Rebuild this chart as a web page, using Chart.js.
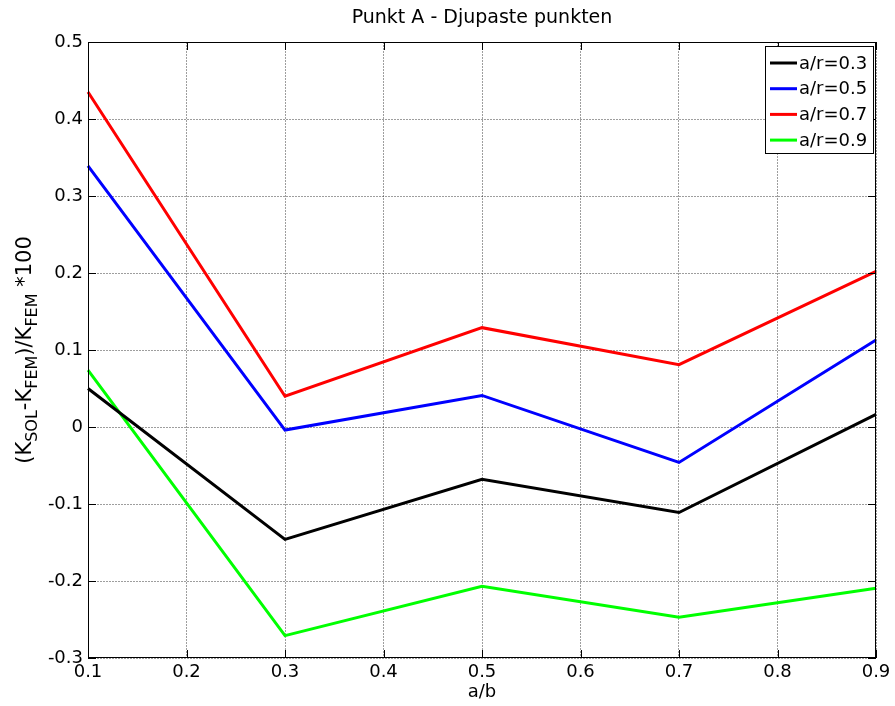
<!DOCTYPE html>
<html>
<head>
<meta charset="utf-8">
<script src="https://cdn.jsdelivr.net/npm/chart.js@4"></script>
<style>
  html, body { margin: 0; padding: 0; background: #fff; }
  canvas { display: block; }
</style>
</head>
<body>
<canvas id="grafico" width="895" height="706"></canvas>
<script>
const xValues = [0.1, 0.3, 0.5, 0.7, 0.9]
const seriesLabels = ['a/r=0.3', 'a/r=0.5', 'a/r=0.7', 'a/r=0.9']
const seriesColors = ['#000000', '#0000ff', '#ff0000', '#00ff00']
const ar03 = [0.050, -0.146, -0.068, -0.111, 0.0165]
const ar05 = [0.339, -0.004, 0.041, -0.046, 0.113]
const ar07 = [0.435, 0.040, 0.129, 0.081, 0.202]
const ar09 = [0.074, -0.271, -0.207, -0.247, -0.2095]
const xTicks = [0.1, 0.2, 0.3, 0.4, 0.5, 0.6, 0.7, 0.8, 0.9]
const xTickLabels = ['0.1', '0.2', '0.3', '0.4', '0.5', '0.6', '0.7', '0.8', '0.9']
const yTicks = [-0.3, -0.2, -0.1, 0, 0.1, 0.2, 0.3, 0.4, 0.5]
const yTickLabels = ['-0.3', '-0.2', '-0.1', '0', '0.1', '0.2', '0.3', '0.4', '0.5']

const FONT = '"DejaVu Sans", Arial, sans-serif'

// box, inward ticks, title, axis labels, legend (matlab look)
const matlabLook = {
    id: 'matlabLook',
    afterDatasetsDraw(chart) {
        const ctx = chart.ctx
        const a = chart.chartArea
        const xs = chart.scales.x, ys = chart.scales.y
        ctx.save()
        ctx.strokeStyle = '#000'
        ctx.lineWidth = 1
        ctx.strokeRect(a.left + 0.5, a.top + 0.5, a.right - a.left - 1, a.bottom - a.top - 1)
        ctx.beginPath()
        for (const t of xTicks) {
            const px = Math.round(xs.getPixelForValue(t)) + 0.5
            ctx.moveTo(px, a.bottom); ctx.lineTo(px, a.bottom - 8)
            ctx.moveTo(px, a.top); ctx.lineTo(px, a.top + 8)
        }
        for (const t of yTicks) {
            const py = Math.round(ys.getPixelForValue(t)) + 0.5
            ctx.moveTo(a.left, py); ctx.lineTo(a.left + 8, py)
            ctx.moveTo(a.right, py); ctx.lineTo(a.right - 8, py)
        }
        ctx.stroke()

        const cx = (a.left + a.right) / 2
        ctx.fillStyle = '#000'
        ctx.font = '19px ' + FONT
        ctx.textAlign = 'center'
        ctx.textBaseline = 'middle'
        ctx.fillText('Punkt A - Djupaste punkten', cx, 18)
        ctx.font = '18px ' + FONT
        ctx.fillText('a/b', cx, 692)

        // y label with subscripts
        const parts = [['(K', 0], ['SOL', 1], ['-K', 0], ['FEM', 1], [')/K', 0], ['FEM', 1], [' *100', 0]]
        const main = '21px ', small = '16px '
        let total = 0
        for (const [s, sub] of parts) {
            ctx.font = (sub ? small : main) + FONT
            total += ctx.measureText(s).width
        }
        ctx.translate(31, (a.top + a.bottom) / 2)
        ctx.rotate(-Math.PI / 2)
        ctx.textAlign = 'left'
        ctx.textBaseline = 'alphabetic'
        let pos = -total / 2
        for (const [s, sub] of parts) {
            ctx.font = (sub ? small : main) + FONT
            ctx.fillText(s, pos, sub ? 6 : 0)
            pos += ctx.measureText(s).width
        }
        ctx.restore()

        // legend
        ctx.save()
        const lx = 765, ly = 46, lw = 108, lh = 107
        ctx.fillStyle = '#fff'
        ctx.fillRect(lx, ly, lw, lh)
        ctx.strokeStyle = '#000'
        ctx.lineWidth = 1
        ctx.strokeRect(lx + 0.5, ly + 0.5, lw, lh)
        ctx.font = '18px ' + FONT
        ctx.textAlign = 'left'
        ctx.textBaseline = 'middle'
        chart.data.datasets.forEach((ds, i) => {
            const ry = 63 + i * 25.7
            ctx.strokeStyle = ds.borderColor
            ctx.lineWidth = 3
            ctx.beginPath()
            ctx.moveTo(770, ry); ctx.lineTo(797, ry)
            ctx.stroke()
            ctx.fillStyle = '#000'
            ctx.fillText(ds.label, 799, ry + 1)
        })
        ctx.restore()
    }
}

window.onload = () => {
    const grf = document.getElementById('grafico').getContext('2d')
    const series = [ar03, ar05, ar07, ar09]

    const data = {
        datasets: series.map((vals, i) => ({
            label: seriesLabels[i],
            data: vals.map((v, j) => ({ x: xValues[j], y: v })),
            borderColor: seriesColors[i],
            backgroundColor: seriesColors[i],
            borderWidth: 3,
            pointRadius: 0,
            tension: 0,
            clip: 4
        }))
    }

    const gridOpts = {
        color: 'rgba(0,0,0,0.38)',
        lineWidth: 1,
        drawTicks: false
    }

    const options = {
        responsive: false,
        maintainAspectRatio: false,
        animation: false,
        devicePixelRatio: 1,
        layout: { padding: { top: 42, right: 19, left: 0, bottom: 0 } },
        plugins: {
            legend: { display: false },
            title: { display: false },
            tooltip: { enabled: false }
        },
        scales: {
            x: {
                type: 'linear',
                min: 0.1,
                max: 0.9,
                afterBuildTicks: s => { s.ticks = xTicks.map(v => ({ value: v })) },
                afterFit: s => { s.height = 48 },
                grid: gridOpts,
                border: { display: false, dash: [2, 1] },
                ticks: {
                    color: '#000',
                    font: { family: FONT, size: 18 },
                    padding: 4,
                    maxRotation: 0,
                    autoSkip: false,
                    callback: (v, i) => xTickLabels[i]
                }
            },
            y: {
                type: 'linear',
                min: -0.3,
                max: 0.5,
                afterBuildTicks: s => { s.ticks = yTicks.map(v => ({ value: v })) },
                afterFit: s => { s.width = 88 },
                grid: gridOpts,
                border: { display: false, dash: [2, 1] },
                ticks: {
                    color: '#000',
                    font: { family: FONT, size: 18 },
                    padding: 5,
                    autoSkip: false,
                    callback: (v, i) => yTickLabels[i]
                }
            }
        }
    }

    new Chart(grf, { type: 'line', data: data, options: options, plugins: [matlabLook] })
}
</script>
</body>
</html>
